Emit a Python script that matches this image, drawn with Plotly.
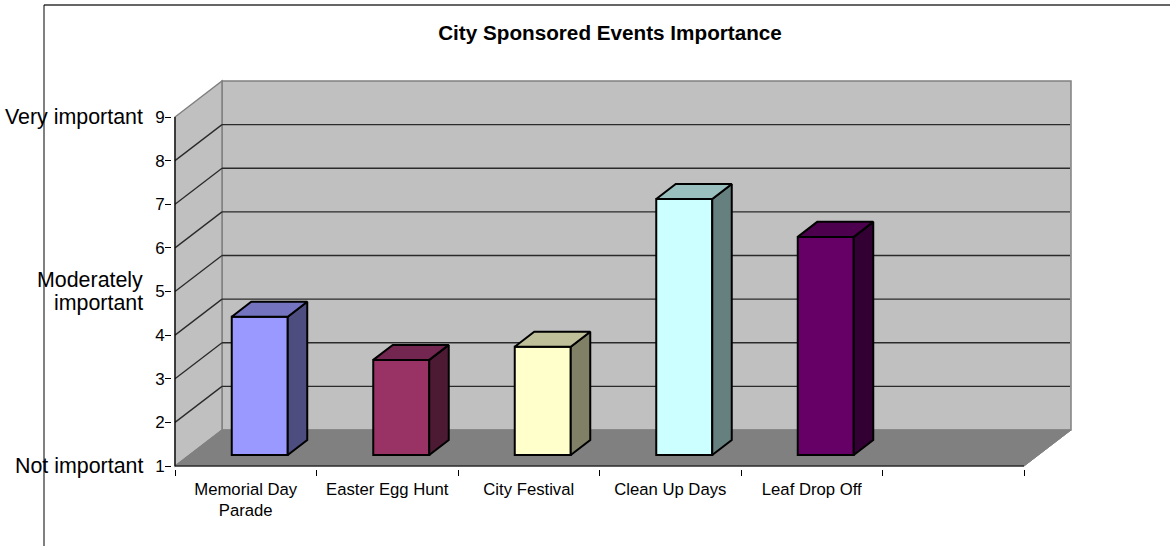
import plotly.graph_objs as go

categories = ["Memorial Day<br>Parade", "Easter Egg Hunt", "City Festival", "Clean Up Days", "Leaf Drop Off"]
values = [4.17, 3.18, 3.48, 6.87, 6.0]
front_colors = ["#9999FF", "#993366", "#FFFFCC", "#CCFFFF", "#660066"]
side_colors = ["#4D4D80", "#4D1A33", "#808066", "#668080", "#330033"]
top_colors = ["#7373BF", "#732650", "#BFBF99", "#99BFBF", "#4D004D"]
y_ticks = [1, 2, 3, 4, 5, 6, 7, 8, 9]
x_slots = [0, 1, 2, 3, 4, 5, 6]

# pixel scale of the picture
X0, Y0 = 175, 466
PX_X = 141.5
PX_Y = 43.62
PAD = 3

# fake 3d depth, in axis units
WALL_DX = 47 / PX_X
WALL_DY = 36 / PX_Y
GAP_DX = 14 / PX_X
GAP_DY = 11 / PX_Y
BAR_DX = 19.5 / PX_X
BAR_DY = 15 / PX_Y
BAR_W = 56 / PX_X

FONT = "Liberation Sans"

x_lo = -PAD / PX_X
x_hi = 6 + WALL_DX + PAD / PX_X
y_lo = 1 - PAD / PX_Y
y_hi = 9 + WALL_DY + PAD / PX_Y

left = X0 - PAD
right = 1170 - (X0 + 6 * PX_X + WALL_DX * PX_X + PAD)
bottom = 546 - (Y0 + PAD)
top = Y0 - 8 * PX_Y - WALL_DY * PX_Y - PAD
plot_w = 1170 - left - right
plot_h = 546 - top - bottom


def px_to_paper(px):
    return (px - left) / plot_w


def poly(xs, ys):
    path = "M " + " L ".join(f"{x},{y}" for x, y in zip(xs, ys)) + " Z"
    return path


shapes = []

# back wall, left wall, floor
shapes.append(dict(type="path", layer="below", line=dict(color="#808080", width=1.5), fillcolor="#C0C0C0",
                   path=poly([WALL_DX, 6 + WALL_DX, 6 + WALL_DX, WALL_DX],
                             [1 + WALL_DY, 1 + WALL_DY, 9 + WALL_DY, 9 + WALL_DY])))
shapes.append(dict(type="path", layer="below", line=dict(color="#808080", width=1.5), fillcolor="#C0C0C0",
                   path=poly([0, WALL_DX, WALL_DX, 0], [1, 1 + WALL_DY, 9 + WALL_DY, 9])))
shapes.append(dict(type="path", layer="below", line=dict(color="#808080", width=1), fillcolor="#808080",
                   path=poly([0, 6, 6 + WALL_DX, WALL_DX], [1, 1, 1 + WALL_DY, 1 + WALL_DY])))

# gridlines run along the left wall then the back wall
for v in y_ticks[1:-1]:
    shapes.append(dict(type="line", layer="below", line=dict(color="#2a2a2a", width=1.3),
                       x0=0, y0=v, x1=WALL_DX, y1=v + WALL_DY))
    shapes.append(dict(type="line", layer="below", line=dict(color="#2a2a2a", width=1.3),
                       x0=WALL_DX, y0=v + WALL_DY, x1=6 + WALL_DX - 1 / PX_X, y1=v + WALL_DY))

# axis lines stop at the front of the floor
shapes.append(dict(type="line", line=dict(color="black", width=1.2), x0=0, y0=1, x1=6, y1=1))
shapes.append(dict(type="line", line=dict(color="black", width=1.2), x0=0, y0=1, x1=0, y1=9))
shapes.append(dict(type="line", line=dict(color="#808080", width=1), x0=6, y0=1, x1=6 + WALL_DX, y1=1 + WALL_DY))

# outer frame, only top and left are in the picture
frame_top = 1 + (top - 5) / plot_h
shapes.append(dict(type="line", xref="paper", yref="paper", line=dict(color="#333333", width=1.5),
                   x0=px_to_paper(44), x1=px_to_paper(1170), y0=frame_top, y1=frame_top))
shapes.append(dict(type="line", xref="paper", yref="paper", line=dict(color="black", width=1),
                   x0=px_to_paper(44), x1=px_to_paper(44), y0=frame_top, y1=-bottom / plot_h))

fig = go.Figure()

centers = [i + 0.5 for i in range(len(categories))]
fig.add_trace(go.Bar(
    x=[c + GAP_DX for c in centers],
    y=[v - 1 for v in values],
    base=1 + GAP_DY,
    width=BAR_W,
    marker=dict(color=front_colors, line=dict(color="black", width=2)),
    showlegend=False,
    hoverinfo="skip",
))

# side and top faces of the bars
for c, v, sc, tc in zip(centers, values, side_colors, top_colors):
    xl = c + GAP_DX - BAR_W / 2
    xr = c + GAP_DX + BAR_W / 2
    base = 1 + GAP_DY
    high = v + GAP_DY
    fig.add_trace(go.Scatter(
        x=[xr, xr + BAR_DX, xr + BAR_DX, xr, xr],
        y=[base, base + BAR_DY, high + BAR_DY, high, base],
        mode="lines", fill="toself", fillcolor=sc,
        line=dict(color="black", width=2), showlegend=False, hoverinfo="skip",
    ))
    fig.add_trace(go.Scatter(
        x=[xl, xr, xr + BAR_DX, xl + BAR_DX, xl],
        y=[high, high, high + BAR_DY, high + BAR_DY, high],
        mode="lines", fill="toself", fillcolor=tc,
        line=dict(color="black", width=2), showlegend=False, hoverinfo="skip",
    ))

# rating words, one entry per text line so the spacing can follow the picture
annotations = []
for val, label, shift in [(9, "Very important", 0), (5, "Moderately", 11.5), (5, "important", -11.5), (1, "Not important", 0)]:
    annotations.append(dict(
        x=px_to_paper(145), xref="paper", y=val, yref="y", yshift=shift, text=label, showarrow=False,
        xanchor="right", yanchor="middle", align="right",
        font=dict(family=FONT, size=21.4, color="black"),
    ))

fig.update_xaxes(
    range=[x_lo, x_hi],
    tickmode="array",
    tickvals=centers,
    ticktext=categories,
    ticks="",
    ticklabelstandoff=8,
    tickfont=dict(family=FONT, size=16.7, color="black"),
    showgrid=False,
    zeroline=False,
    showline=False,
    minor=dict(tickmode="array", tickvals=x_slots, ticks="outside", ticklen=6, tickcolor="black", tickwidth=1, showgrid=False),
)
fig.update_yaxes(
    range=[y_lo, y_hi],
    tickmode="array",
    tickvals=y_ticks,
    ticks="outside",
    ticklen=6,
    tickcolor="black",
    ticklabelstandoff=-3,
    tickfont=dict(family=FONT, size=17, color="black"),
    showgrid=False,
    zeroline=False,
    showline=False,
)

fig.update_layout(
    title=dict(
        text="<b>City Sponsored Events Importance</b>",
        xref="container", yref="container",
        x=610 / 1170, y=1 - 33 / 546,
        xanchor="center", yanchor="middle",
        font=dict(family=FONT, size=20.7, color="black"),
    ),
    width=1170,
    height=546,
    margin=dict(l=left, r=right, t=top, b=bottom, pad=0),
    paper_bgcolor="white",
    plot_bgcolor="white",
    shapes=shapes,
    annotations=annotations,
    showlegend=False,
)

fig.write_html("out.html", config=dict(displayModeBar=False), post_script="document.body.style.margin='0';")
